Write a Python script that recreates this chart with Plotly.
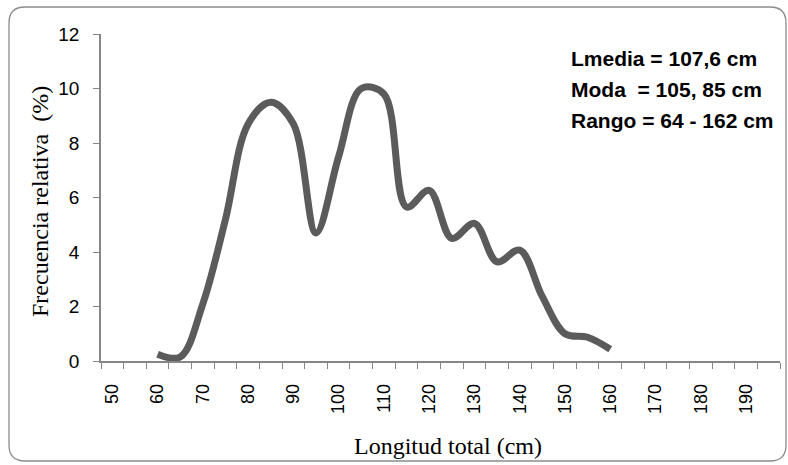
import plotly.graph_objects as go

# Longitud total (cm) - marcas de clase cada 5 cm
longitud = [60, 65, 70, 75, 80, 85, 90, 95, 100, 105, 110,
            115, 120, 125, 130, 135, 140, 145, 150, 155, 160]
# Frecuencia relativa (%)
frecuencia = [0.25, 0.15, 2.1, 5.2, 8.7, 9.5, 8.7, 4.7, 7.5, 10.0, 9.8,
              5.65, 6.26, 4.5, 5.05, 3.64, 4.07, 2.36, 1.0, 0.87, 0.43]

x_labels = [50, 60, 70, 80, 90, 100, 110, 120, 130, 140, 150, 160, 170, 180, 190]
y_ticks = [0, 2, 4, 6, 8, 10, 12]

stats_lines = ["Lmedia = 107,6 cm", "Moda  = 105, 85 cm", "Rango = 64 - 162 cm"]

W, H = 788, 465
L, R, T, B = 101, 8, 34, 104
pw, ph = W - L - R, H - T - B


def px(x):
    return (x - L) / pw


def py(y):
    return (H - B - y) / ph


axis_grey = '#868686'

fig = go.Figure()
fig.add_trace(go.Scatter(
    x=longitud,
    y=frecuencia,
    mode='lines',
    line=dict(color='#5b5b5b', width=7, shape='spline', smoothing=1.0),
    hoverinfo='x+y',
    showlegend=False
))

# rounded border of the chart area
x0, y0, x1, y1, r = px(9), py(7), px(786), py(461), 16
rx, ry = r / pw, r / ph
path = (f"M {x0 + rx},{y0} L {x1 - rx},{y0} Q {x1},{y0} {x1},{y0 - ry} "
        f"L {x1},{y1 + ry} Q {x1},{y1} {x1 - rx},{y1} "
        f"L {x0 + rx},{y1} Q {x0},{y1} {x0},{y1 + ry} "
        f"L {x0},{y0 - ry} Q {x0},{y0} {x0 + rx},{y0} Z")
fig.add_shape(type='path', path=path, xref='paper', yref='paper',
              line=dict(color='#8c8c8c', width=1.3), layer='below')

# statistics text
for i, txt in enumerate(stats_lines):
    fig.add_annotation(
        x=px(569), y=py(58 + i * 31), xref='paper', yref='paper',
        text=f"<b>{txt}</b>", showarrow=False, xanchor='left', yanchor='middle',
        font=dict(family='Liberation Sans, Arial', size=21, color='black')
    )

# axis titles
fig.add_annotation(
    x=px(40), y=py(202), xref='paper', yref='paper',
    text='Frecuencia relativa  (%)', showarrow=False, textangle=-90,
    xanchor='center', yanchor='middle',
    font=dict(family='Liberation Serif, Times New Roman', size=24, color='black')
)
fig.add_annotation(
    x=px(448), y=py(446), xref='paper', yref='paper',
    text='Longitud total (cm)', showarrow=False,
    xanchor='center', yanchor='middle',
    font=dict(family='Liberation Serif, Times New Roman', size=24, color='black')
)

fig.update_layout(
    width=W, height=H,
    margin=dict(l=L, r=R, t=T, b=B),
    plot_bgcolor='white',
    paper_bgcolor='white',
    font=dict(family='Liberation Sans, Arial', color='black'),
    xaxis=dict(
        range=[47.5, 197.5],
        tickmode='array', tickvals=x_labels, ticktext=[str(v) for v in x_labels],
        tickangle=-90, ticks='', ticklabelstandoff=14,
        tickfont=dict(size=18),
        minor=dict(ticks='outside', tick0=47.5, dtick=5, ticklen=6,
                   tickcolor=axis_grey, tickwidth=1.2, showgrid=False),
        showline=True, linecolor=axis_grey, linewidth=1.5,
        showgrid=False, zeroline=False, fixedrange=True
    ),
    yaxis=dict(
        range=[0, 12],
        tickmode='array', tickvals=y_ticks,
        ticks='outside', ticklen=6, tickcolor=axis_grey, tickwidth=1.2,
        ticklabelstandoff=10,
        tickfont=dict(size=19),
        showline=True, linecolor=axis_grey, linewidth=1.5,
        showgrid=False, zeroline=False, fixedrange=True
    )
)

# drop the default page margin so the figure sits at the window origin
fig.write_html("out.html", config={'displayModeBar': False},
               post_script="document.body.style.margin='0';")
